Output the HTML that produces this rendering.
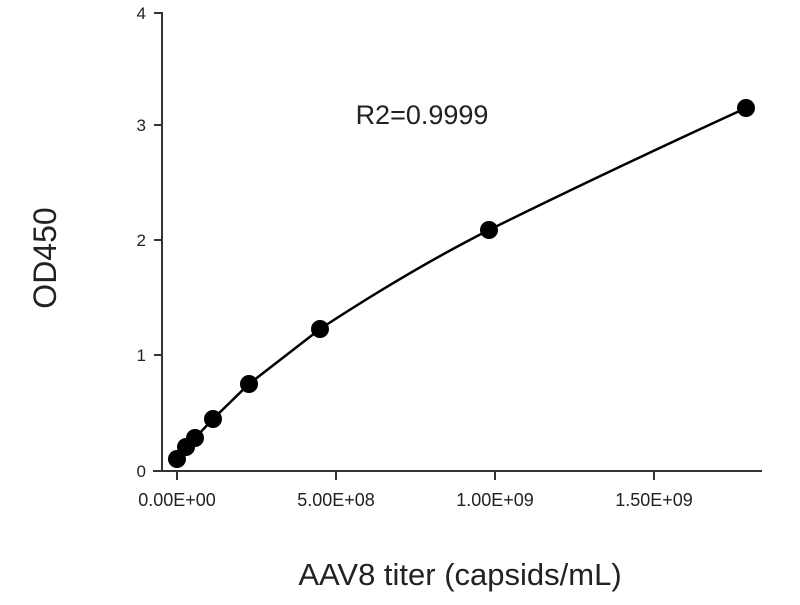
<!DOCTYPE html>
<html><head><style>body{margin:0;background:#fff}</style></head><body>
<svg width="800" height="600" viewBox="0 0 800 600" xmlns="http://www.w3.org/2000/svg" font-family="Liberation Sans, sans-serif">
<g stroke="#333" stroke-width="2" fill="none">
<line x1="162" y1="12" x2="162" y2="471"/>
<line x1="153" y1="471" x2="762" y2="471"/>
<line x1="154" y1="13" x2="162" y2="13"/>
<line x1="154" y1="125" x2="162" y2="125"/>
<line x1="154" y1="240" x2="162" y2="240"/>
<line x1="154" y1="355" x2="162" y2="355"/>
<line x1="177" y1="471" x2="177" y2="480"/>
<line x1="336" y1="471" x2="336" y2="480"/>
<line x1="495" y1="471" x2="495" y2="480"/>
<line x1="654" y1="471" x2="654" y2="480"/>
</g>
<g font-size="17" fill="#222" text-anchor="end">
<text x="146" y="19">4</text><text x="146" y="131">3</text><text x="146" y="246">2</text><text x="146" y="361">1</text><text x="146" y="477">0</text>
</g>
<g font-size="18" fill="#222" text-anchor="middle">
<text x="177" y="506">0.00E+00</text><text x="336" y="506">5.00E+08</text><text x="495" y="506">1.00E+09</text><text x="654" y="506">1.50E+09</text>
</g>
<text x="460" y="585" font-size="31" text-anchor="middle" fill="#222">AAV8 titer (capsids/mL)</text>
<text transform="translate(56,258) rotate(-90)" font-size="32" text-anchor="middle" fill="#222">OD450</text>
<text x="422" y="124" font-size="27" text-anchor="middle" fill="#222">R2=0.9999</text>
<path d="M177,459 L186,447 L195,438 L213,419 L249,384 L320,329 Q410,270 489,230 Q600,175 746,108" stroke="#000" stroke-width="2.5" fill="none"/>
<g fill="#000">
<circle cx="177" cy="459" r="9"/><circle cx="186" cy="447" r="9"/><circle cx="195" cy="438" r="9"/><circle cx="213" cy="419" r="9"/><circle cx="249" cy="384" r="9"/><circle cx="320" cy="329" r="9"/><circle cx="489" cy="230" r="9"/><circle cx="746" cy="108" r="9"/>
</g>
</svg>
</body></html>
